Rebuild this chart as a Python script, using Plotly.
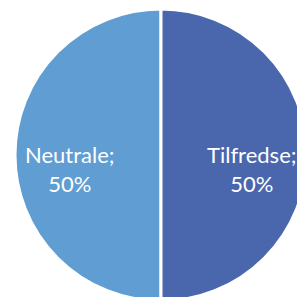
import numpy as np
import plotly.graph_objects as go

labels = ["Neutrale", "Tilfredse"]
values = [50, 50]
colors = ["#5F9DD2", "#4A67AD"]

W, H = 307, 301
dom_x = [15 / W, 1]
dom_y = [0, 1 - 9 / H]

fig = go.Figure(go.Pie(
    labels=labels,
    values=values,
    sort=False,
    direction="clockwise",
    rotation=180,
    marker=dict(colors=colors, line=dict(color="white", width=3)),
    textinfo="none",
    domain=dict(x=dom_x, y=dom_y),
    hoverinfo="none",
))

# label annotations placed along each slice's bisector
cx = (dom_x[0] + dom_x[1]) / 2 * W
cy = (dom_y[0] + dom_y[1]) / 2 * H
r = min((dom_x[1] - dom_x[0]) * W, (dom_y[1] - dom_y[0]) * H) / 2
tot = sum(values)
start = 90.0
cum = 0.0
for lab, v in zip(labels, values):
    frac = v / tot
    mid = start + 360 * (cum + frac / 2)  # counterclockwise from 12 o'clock
    cum += frac
    ang = np.deg2rad(mid)
    x = cx + 0.62 * r * np.cos(ang)
    y = cy + 0.62 * r * np.sin(ang) - 14
    fig.add_annotation(
        x=x / W, y=y / H, xref="paper", yref="paper",
        text=f"{lab};<br>{round(100 * frac)}%",
        showarrow=False, align="center",
        xanchor="center", yanchor="middle",
        font=dict(family="Lato", size=22, color="white"),
    )

fig.update_layout(
    width=W, height=H,
    margin=dict(l=0, r=0, t=0, b=0),
    showlegend=False,
    paper_bgcolor="white",
)
fig.write_html(
    "out.html",
    config={"displayModeBar": False},
    post_script="document.body.style.margin='0';document.body.style.overflow='hidden';document.documentElement.style.overflow='hidden';",
)
